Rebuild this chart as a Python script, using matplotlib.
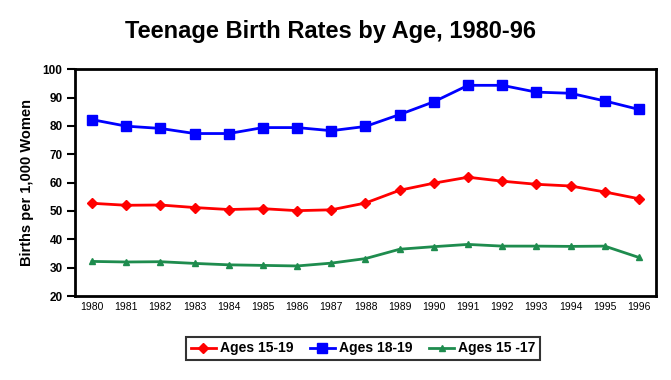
import matplotlib
matplotlib.use('Agg')
import matplotlib.pyplot as plt

# data
years = [1980, 1981, 1982, 1983, 1984, 1985, 1986, 1987, 1988,
         1989, 1990, 1991, 1992, 1993, 1994, 1995, 1996]
ages_15_19 = [52.7, 52.0, 52.1, 51.2, 50.5, 50.8, 50.1, 50.4, 52.8,
              57.3, 59.8, 61.9, 60.5, 59.4, 58.8, 56.7, 54.3]
ages_18_19 = [82.2, 79.9, 79.1, 77.3, 77.3, 79.4, 79.4, 78.3, 79.8,
              84.0, 88.5, 94.3, 94.3, 91.9, 91.5, 88.8, 85.8]
ages_15_17 = [32.2, 32.0, 32.1, 31.5, 31.0, 30.8, 30.6, 31.6, 33.2,
              36.5, 37.4, 38.2, 37.6, 37.6, 37.5, 37.6, 33.6]
y_ticks = [20, 30, 40, 50, 60, 70, 80, 90, 100]

plt.rcParams['font.family'] = ['Liberation Sans', 'DejaVu Sans']

fig = plt.figure(figsize=(6.71, 3.8), dpi=100)
ax = fig.add_axes([0.1118, 0.221, 0.8658, 0.597])

x = list(range(len(years)))
ax.plot(x, ages_15_19, color='#ff0000', lw=2, marker='D', markersize=5.5,
        label='Ages 15-19')
ax.plot(x, ages_18_19, color='#0000ff', lw=2, marker='s', markersize=7.5,
        label='Ages 18-19')
ax.plot(x, ages_15_17, color='#1e8c4e', lw=2, marker='^', markersize=4,
        label='Ages 15 -17')

ax.set_xlim(-0.5, len(years) - 0.5)
ax.set_ylim(20, 100)
ax.set_yticks(y_ticks)
ax.set_yticklabels([str(v) for v in y_ticks], fontsize=8.5, fontweight='bold')
ax.set_xticks(x)
ax.set_xticklabels([str(y) for y in years], fontsize=7.5)
ax.tick_params(axis='x', length=0, pad=4)
ax.tick_params(axis='y', direction='out', length=6, width=1.5, pad=3)

for s in ax.spines.values():
    s.set_linewidth(2)

ax.set_ylabel('Births per 1,000 Women', fontsize=10.5, fontweight='bold', labelpad=6)
fig.text(0.492, 0.916, 'Teenage Birth Rates by Age, 1980-96', fontsize=17,
         fontweight='bold', ha='center', va='center')

leg = ax.legend(loc='upper center', bbox_to_anchor=(0.496, -0.182), ncol=3,
                prop={'weight': 'bold', 'size': 10},
                frameon=True, fancybox=False, edgecolor='black',
                borderpad=0.3, handlelength=1.8, columnspacing=1.2,
                handletextpad=0.3, borderaxespad=0)
leg.get_frame().set_linewidth(1.5)

fig.savefig('out.png', dpi=100)
